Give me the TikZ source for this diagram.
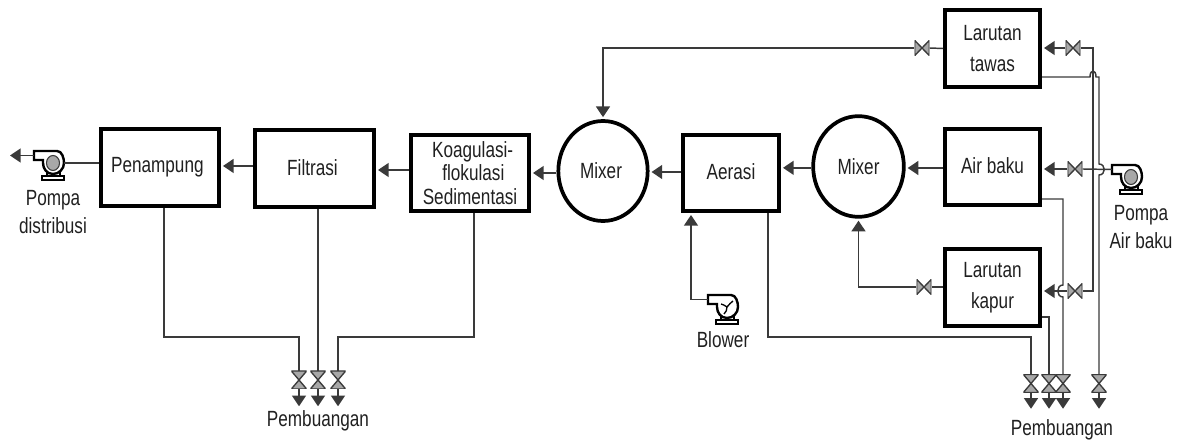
\documentclass[tikz,border=0pt]{standalone}
\usepackage{fontspec}
\setmainfont[FakeStretch=0.78]{Liberation Sans}
\usetikzlibrary{arrows.meta,shapes.geometric}
\definecolor{pipec}{HTML}{3A3A3A}
\definecolor{valvec}{HTML}{A8A8A8}
\definecolor{txtc}{HTML}{202020}
\tikzset{
  x=0.75pt,y=-0.75pt,
  every node/.style={font=\fontsize{16.5}{23}\selectfont,text=txtc,inner sep=0pt,align=center},
  boxn/.style={draw=black,fill=white,line width=3pt,minimum width=#1*0.75pt,minimum height=57.5pt},
  mixern/.style={ellipse,draw=black,fill=white,line width=2.8pt},
  pipe/.style={draw=pipec,line width=1.1pt},
  flow/.style={pipe,-{Triangle[length=8pt,width=10.5pt]},shorten >=1.5pt},
  valveh/.style={minimum width=11pt,minimum height=11.5pt,path picture={
    \draw[fill=valvec,draw=pipec,line width=1pt] (path picture bounding box.north west)--(path picture bounding box.south east)--(path picture bounding box.north east)--(path picture bounding box.south west)--cycle;}},
  valvev/.style={minimum width=11.5pt,minimum height=13.5pt,path picture={
    \draw[fill=valvec,draw=pipec,line width=1pt] (path picture bounding box.north west)--(path picture bounding box.north east)--(path picture bounding box.south west)--(path picture bounding box.south east)--cycle;}},
  pumpshell/.pic={
    \draw[black,line width=1.8pt,fill=white] (-19,-12)--(4,-12).. controls (9,-12) and (11,-5) .. (11,0).. controls (11,6) and (6,11) .. (0,11).. controls (-6,11) and (-10,6) .. (-10,0)--(-10,-3)--(-19,-3)--cycle;
    \draw[black,line width=1.1pt] (-6,8)--(-6,13) (7,8)--(7,13);
    \draw[black,line width=1.8pt,fill=white] (-11,13) rectangle (11,17);
    \coordinate (-out) at (-19,-7.5);
    \coordinate (-right) at (11,0);
  },
  pumpwheel/.pic={\draw[pipec,line width=.8pt,fill=valvec] (0,0) ellipse[x radius=6.5,y radius=7.5];},
  fanwheel/.pic={\draw[black,line width=1pt] (0,0) .. controls (3,-2) and (3,-5) .. (6,-6) (0,0) .. controls (-2,-2) and (-4,-2) .. (-6,-3) (0,0) .. controls (0,3) and (-1,5) .. (-3,7);}
}
\begin{document}
\begin{tikzpicture}
\useasboundingbox (0,0) rectangle (1182,441);
% process blocks
\node[boxn=95,minimum height=57.75pt] (tawas) at (992.5,48.5) {Larutan\\tawas};
\node[boxn=95] (baku) at (992.5,167) {\raisebox{1.5pt}{Air baku}};
\node[boxn=95,minimum height=57.75pt] (kapur) at (992.5,287.5) {Larutan\\kapur};
\node[boxn=118] (pen) at (160,167.5) {\raisebox{3pt}{Penampung\hspace{4pt}}};
\node[boxn=119] (fil) at (314.5,168.5) {\raisebox{1.5pt}{Filtrasi\hspace{3pt}}};
\node[boxn=118,font=\fontsize{16.5}{17.5}\selectfont] (koag) at (470,173) {\hspace{4pt}Koagulasi-\\\hspace{5pt}flokulasi\\Sedimentasi};
\node[boxn=96] (aer) at (731,173) {\raisebox{2pt}{Aerasi}};
\node[mixern,minimum width=67pt,minimum height=75pt] (mix1) at (603,171) {\raisebox{0.5pt}{Mixer\hspace{3pt}}};
\node[mixern,minimum width=68pt,minimum height=75.5pt] (mix2) at (858.5,166.5) {Mixer};
% pumps
\pic (pd) at (53,163) {pumpshell};
\pic at (53,163) {pumpwheel};
\pic (pa) at (1131,177) {pumpshell};
\pic at (1131,177) {pumpwheel};
\pic (bl) at (727,307) {pumpshell};
\pic at (727,307) {fanwheel};
% valves
\node[valveh] (v1) at (922,48) {};
\node[valveh] (v2) at (1073,48) {};
\node[valveh] (v3) at (1075,169) {};
\node[valveh] (v4) at (924,287) {};
\node[valveh] (v5) at (1075,291) {};
\node[valvev] (vl1) at (299,380) {};
\node[valvev] (vl2) at (318,380) {};
\node[valvev] (vl3) at (338,380) {};
\node[valvev] (vr1) at (1031,383.5) {};
\node[valvev] (vr2) at (1049,383.5) {};
\node[valvev] (vr3) at (1063,383.5) {};
\node[valvev] (vr4) at (1099,383.5) {};
% waypoints
\coordinate (feedT) at (1093,48);
\coordinate (feedB) at (1093,291);
\coordinate (tawOut) at (1042,77);
\coordinate (bakOut) at (1042,199);
\coordinate (kapOut) at (1042,317);
\coordinate (aerOut) at (768,213);
\coordinate (aerBend) at (768,337);
\coordinate (aerIn) at (691,213);
\coordinate (penOut) at (164,208);
\coordinate (penBend) at (164,337);
\coordinate (koaOut) at (474,213);
\coordinate (koaBend) at (474,337);
% main line
\draw[flow] ([yshift=-.75pt]baku.west) -- ([yshift=-.75pt]baku.west -| mix2.east);
\draw[flow] ([yshift=-1pt]mix2.west) -- ([yshift=-1pt]mix2.west -| aer.east);
\draw[flow] ([yshift=.75pt]aer.west) -- ([yshift=.75pt]aer.west -| mix1.east);
\draw[flow] (mix1.west |- koag.east) -- (koag.east);
\draw[flow] ([yshift=2.25pt]koag.west) -- ([yshift=2.25pt]koag.west -| fil.east);
\draw[flow] ([yshift=1.9pt]fil.west) -- ([yshift=1.9pt]fil.west -| pen.east);
\draw[pipe] ([yshift=3.4pt]pen.west) -- ([yshift=3.4pt]pen.west -| pd-right);
\draw[flow] (pd-out) -- ++(-26,0);
% chemicals
\draw[pipe] (tawas.west) -- (v1.east);
\draw[flow] (v1.west) -| (mix1.north);
\draw[pipe] (kapur.west |- v4.east) -- (v4.east);
\draw[flow] (v4.west) -| (mix2.south);
\draw[flow] (bl-out) -| (aerIn);
% feeds
\draw[flow] (v2.west) -- (v2.west -| tawas.east);
\draw[flow] (v3.west) -- (v3.west -| baku.east);
\draw[flow] (v5.west) -- (v5.west -| kapur.east);
\draw[pipe] (v2.east) -- (feedT) -- (feedB) -- (v5.east);
\draw[pipe] (pa-out) -- (v3.east);
% drains right
\draw[pipe] (tawOut) -- (1090,77) .. controls (1090,69) and (1096,69) .. (1096,77) -- (1099,77) -- (1099,164) .. controls (1106,164) and (1106,175) .. (1099,175) -- (vr4.north);
\draw[pipe] (bakOut) -- (1063,199) -- (1063,285) .. controls (1056,285) and (1056,297) .. (1063,297) -- (vr3.north);
\draw[pipe] (kapOut) -| (vr2.north);
\draw[pipe] (aerOut) -- (aerBend) -| (vr1.north);
\draw[flow,shorten >=0pt] (vr1.south) -- ++(0,16);
\draw[flow,shorten >=0pt] (vr2.south) -- ++(0,16);
\draw[flow,shorten >=0pt] (vr3.south) -- ++(0,16);
\draw[flow,shorten >=0pt] (vr4.south) -- ++(0,16);
% drains left
\draw[pipe] (penOut) -- (penBend) -| (vl1.north);
\draw[pipe] (vl2.north |- fil.south) -- (vl2.north);
\draw[pipe] (koaOut) -- (koaBend) -| (vl3.north);
\draw[flow,shorten >=0pt] (vl1.south) -- ++(0,17);
\draw[flow,shorten >=0pt] (vl2.south) -- ++(0,17);
\draw[flow,shorten >=0pt] (vl3.south) -- ++(0,17);
% labels
\node[font=\fontsize{16.5}{20.5}\selectfont] (lpd) at (53,212) {Pompa\\distribusi};
\node[font=\fontsize{16.5}{20.5}\selectfont] (lpa) at (1141,227) {Pompa\\Air baku};
\node (lbl) at (723,340) {Blower};
\node (lpl) at (318,421) {Pembuangan};
\node (lpr) at (1062,430) {Pembuangan};
\end{tikzpicture}
\end{document}
